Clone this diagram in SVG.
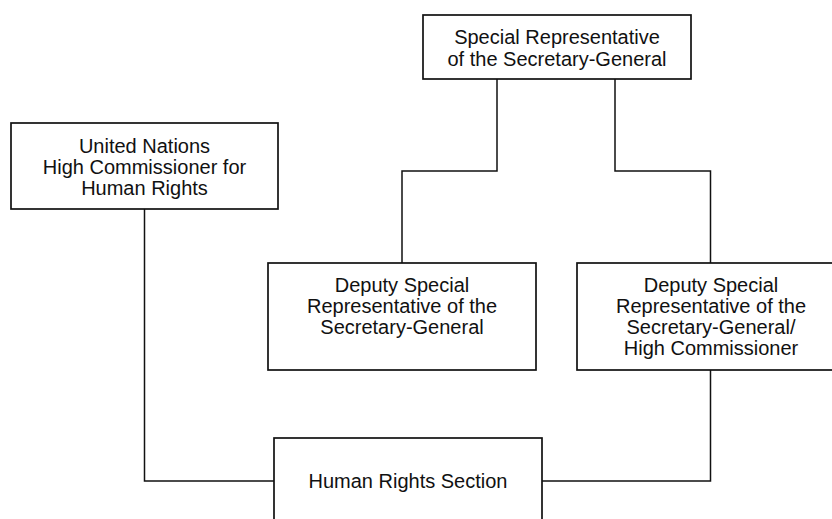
<svg xmlns="http://www.w3.org/2000/svg" width="832" height="519" viewBox="0 0 832 519">
<style>
.box{fill:#fff;stroke:#111;stroke-width:1.7}
.conn{fill:none;stroke:#111;stroke-width:1.5}
text{font-family:"Liberation Sans",Arial,sans-serif;font-size:20px;fill:#111;text-anchor:middle}
</style>
<rect width="832" height="519" fill="#fff"/>
<g id="connectors">
<polyline class="conn" points="497,79 497,171 402,171 402,263"/>
<polyline class="conn" points="615,79 615,171 710.5,171 710.5,263"/>
<polyline class="conn" points="144.5,209 144.5,481 274,481"/>
<polyline class="conn" points="710.5,370 710.5,481 542,481"/>
</g>
<g id="srsg">
<rect class="box" x="423" y="15" width="268" height="64"/>
<text x="557" y="44">Special Representative</text>
<text x="557" y="66">of the Secretary-General</text>
</g>
<g id="unhchr">
<rect class="box" x="11" y="123" width="267" height="86"/>
<text x="144.5" y="153">United Nations</text>
<text x="144.5" y="174">High Commissioner for</text>
<text x="144.5" y="195">Human Rights</text>
</g>
<g id="dsrsg">
<rect class="box" x="268" y="263" width="268" height="107"/>
<text x="402" y="292">Deputy Special</text>
<text x="402" y="313">Representative of the</text>
<text x="402" y="334">Secretary-General</text>
</g>
<g id="dsrsg-hc">
<rect class="box" x="577" y="263" width="268" height="107"/>
<text x="711" y="292">Deputy Special</text>
<text x="711" y="313">Representative of the</text>
<text x="711" y="334">Secretary-General/</text>
<text x="711" y="355">High Commissioner</text>
</g>
<g id="hrs">
<rect class="box" x="274" y="438" width="268" height="86"/>
<text x="408" y="488">Human Rights Section</text>
</g>
</svg>
